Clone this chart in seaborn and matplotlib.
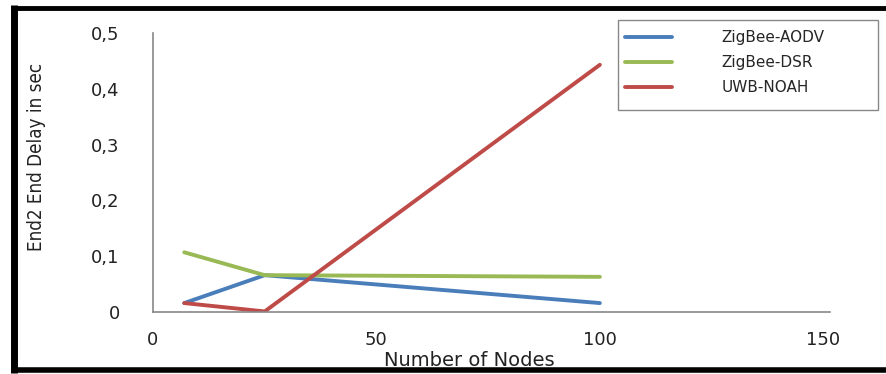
import numpy as np
import pandas as pd
import matplotlib.pyplot as plt
from matplotlib.lines import Line2D
from matplotlib.patches import Rectangle
from matplotlib.ticker import FuncFormatter
import seaborn as sns

nodes = [7, 25, 100]
aodv = [0.016, 0.066, 0.016]
dsr = [0.107, 0.066, 0.063]
noah = [0.016, 0.001, 0.443]
series_names = ["ZigBee-AODV", "ZigBee-DSR", "UWB-NOAH"]
colors = ["#4a7ebb", "#98b954", "#be4b48"]

df = pd.DataFrame({
    "nodes": nodes * 3,
    "delay": aodv + dsr + noah,
    "protocol": [n for n in series_names for _ in nodes],
})

sns.set_style("white")
plt.rcParams['font.family'] = ['DejaVu Sans']
plt.rcParams['font.sans-serif'] = ['DejaVu Sans']

W, H = 886, 374
fig = plt.figure(figsize=(W / 100, H / 100), dpi=100)
ax = fig.add_axes([153 / W, 1 - 312 / H, (830 - 153) / W, (312 - 33) / H])

sns.lineplot(data=df, x="nodes", y="delay", hue="protocol", hue_order=series_names,
             palette=colors, linewidth=2.8, legend=False, ax=ax)

ax.set_xlim(0, 151.5)
ax.set_ylim(0, 0.5)
ax.set_xticks([0, 50, 100, 150])
ax.set_yticks([0, 0.1, 0.2, 0.3, 0.4, 0.5])
ax.yaxis.set_major_formatter(FuncFormatter(lambda v, p: "0" if abs(v) < 1e-9 else f"{v:.1f}".replace(".", ",")))
ax.tick_params(axis="both", length=0, labelsize=13, colors="#222222")
ax.tick_params(axis="y", pad=24)
ax.tick_params(axis="x", pad=14)
ax.set_xlabel("")
ax.set_ylabel("")
for s in ["top", "right"]:
    ax.spines[s].set_visible(False)
for s in ["left", "bottom"]:
    ax.spines[s].set_color("#888888")
    ax.spines[s].set_linewidth(1.2)

fig.text(37 / W, 1 - 157 / H, "End2 End Delay in sec", rotation=90, ha="center", va="center",
         fontsize=13.5, family="DejaVu Sans", stretch="condensed", color="#222222")
fig.text(469 / W, 1 - 361 / H, "Number of Nodes", ha="center", va="center", fontsize=14,
         family="DejaVu Sans", color="#222222")

# legend box drawn separately, entries placed inside it
fig.add_artist(Rectangle((618 / W, 1 - 110 / H), (878 - 618) / W, 90 / H, transform=fig.transFigure,
                         facecolor="white", edgecolor="#888888", linewidth=1.0, zorder=3))
handles = [Line2D([], [], color=c, linewidth=2.8) for c in colors]
leg = fig.legend(handles, series_names, loc="upper left", bbox_to_anchor=(625 / W, 1 - 30 / H),
                 frameon=False, handlelength=3.1, labelspacing=0.65, handletextpad=3.2,
                 borderpad=0, borderaxespad=0, prop={"family": "DejaVu Sans", "size": 11})
leg.set_zorder(4)

# thick black frame on left, top and bottom
frame_kw = dict(color="black", transform=fig.transFigure, solid_capstyle="butt")
fig.add_artist(Line2D([13.5 / W, 13.5 / W], [1 - 5 / H, 1 - 373 / H], linewidth=5, **frame_kw))
fig.add_artist(Line2D([11 / W, 886 / W], [1 - 7.5 / H, 1 - 7.5 / H], linewidth=3.5, **frame_kw))
fig.add_artist(Line2D([11 / W, 886 / W], [1 - 369.5 / H, 1 - 369.5 / H], linewidth=4, **frame_kw))

fig.savefig("out.png", dpi=100)
